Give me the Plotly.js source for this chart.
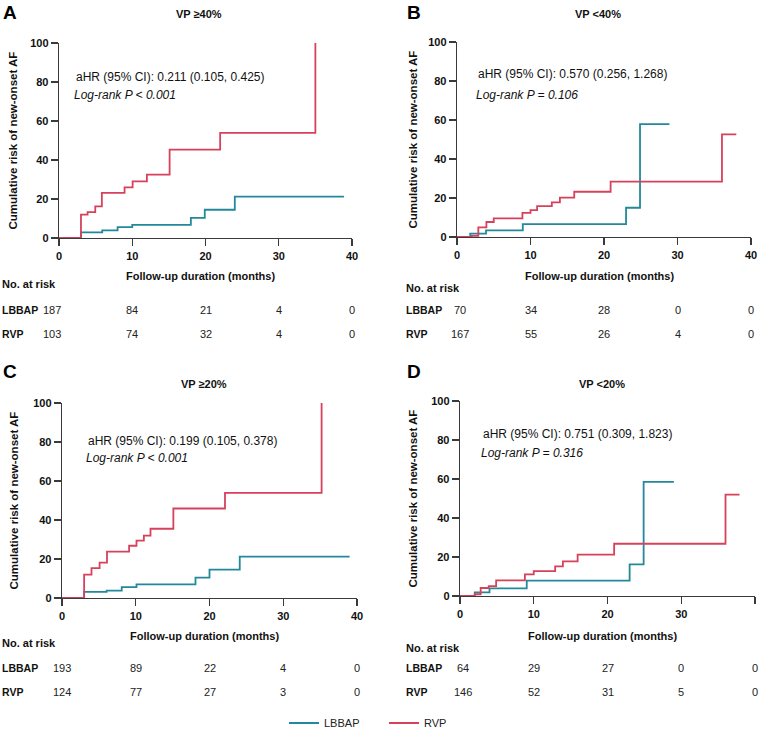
<!DOCTYPE html>
<html>
<head>
<meta charset="utf-8">
<script src="https://cdn.plot.ly/plotly-3.0.1.min.js"></script>
<style>html,body{margin:0;padding:0;background:#fff;}#chart{width:761px;height:743px;}</style>
</head>
<body>
<div id="chart"></div>
<script>
// ---- Data ----
const groups = ['LBBAP', 'RVP'];
const panelLetters = ['A', 'B', 'C', 'D'];
const panelTitles = ['VP ≥40%', 'VP <40%', 'VP ≥20%', 'VP <20%'];
const hrTexts = ['aHR (95% CI): 0.211 (0.105, 0.425)', 'aHR (95% CI): 0.570 (0.256, 1.268)',
                 'aHR (95% CI): 0.199 (0.105, 0.378)', 'aHR (95% CI): 0.751 (0.309, 1.823)'];
const pTexts = ['Log-rank P < 0.001', 'Log-rank P = 0.106', 'Log-rank P < 0.001', 'Log-rank P = 0.316'];
const xTicks = [0, 10, 20, 30, 40];
const yTicks = [0, 20, 40, 60, 80, 100];

const A_LBBAP_t = [0, 3, 5.9, 8, 10, 18, 19.9, 24, 38.9];
const A_LBBAP_y = [0, 2.9, 3.9, 5.6, 6.7, 10.3, 14.5, 21.2, 21.2];
const A_RVP_t = [0, 3, 3.9, 4.95, 5.85, 8.95, 10.05, 12, 15.1, 22, 35];
const A_RVP_y = [0, 12, 13.3, 16.2, 23.1, 26, 29, 32.5, 45.3, 53.9, 100];

const B_LBBAP_t = [0, 1.8, 3.95, 8.95, 23, 24.9, 28.9];
const B_LBBAP_y = [0, 1.7, 3.4, 6.6, 15, 57.9, 57.9];
const B_RVP_t = [0, 2, 2.9, 4, 5, 8.9, 10, 10.9, 12.9, 14, 15.95, 20.9, 36.05, 38];
const B_RVP_y = [0, 0.6, 4.9, 7.7, 9.6, 12.4, 13.8, 15.8, 17.8, 20.2, 23.2, 28.4, 52.6, 52.6];

const C_LBBAP_t = [0, 3, 6.05, 8.1, 10.1, 18.1, 20, 24.1, 39];
const C_LBBAP_y = [0, 3.1, 3.8, 5.6, 7, 10.4, 14.6, 21.2, 21.2];
const C_RVP_t = [0, 3, 4, 5.1, 6.1, 9.1, 10.1, 11.1, 12, 15.1, 22.1, 35.2];
const C_RVP_y = [0, 12, 15.3, 18.1, 23.8, 26.8, 29.4, 32, 35.5, 45.9, 53.9, 100];

const D_LBBAP_t = [0, 2, 4, 9.05, 23, 24.9, 29];
const D_LBBAP_y = [0, 1.9, 3.9, 7.9, 16.2, 58.5, 58.5];
const D_RVP_t = [0, 2, 2.8, 3.9, 4.9, 8.8, 10, 12.9, 13.95, 15.95, 20.9, 36, 37.9];
const D_RVP_y = [0, 0.9, 4.1, 5.1, 8, 11.1, 12.8, 15.2, 17.8, 21.2, 26.8, 52, 52];

// numbers at risk at months 0,10,20,30,40
const A_risk_LBBAP = [187, 84, 21, 4, 0];
const A_risk_RVP = [103, 74, 32, 4, 0];
const B_risk_LBBAP = [70, 34, 28, 0, 0];
const B_risk_RVP = [167, 55, 26, 4, 0];
const C_risk_LBBAP = [193, 89, 22, 4, 0];
const C_risk_RVP = [124, 77, 27, 3, 0];
const D_risk_LBBAP = [64, 29, 27, 0, 0];
const D_risk_RVP = [146, 52, 31, 5, 0];

// ---- Styling / layout ----
const W = 761, H = 743;
const FONT = 'Liberation Sans, Arial, Helvetica, sans-serif';
const TEAL = '#23899A';
const RED = '#D7415C';
const AXC = '#3a3a3a';
const colors = [TEAL, RED];

const curves = [
  [[A_LBBAP_t, A_LBBAP_y], [A_RVP_t, A_RVP_y]],
  [[B_LBBAP_t, B_LBBAP_y], [B_RVP_t, B_RVP_y]],
  [[C_LBBAP_t, C_LBBAP_y], [C_RVP_t, C_RVP_y]],
  [[D_LBBAP_t, D_LBBAP_y], [D_RVP_t, D_RVP_y]]
];
const risks = [
  [A_risk_LBBAP, A_risk_RVP], [B_risk_LBBAP, B_risk_RVP],
  [C_risk_LBBAP, C_risk_RVP], [D_risk_LBBAP, D_risk_RVP]
];

// pixel geometry of each panel
const P = [
  {l: 59, r: 352, t: 43, b: 238, lx: 1, ylx: 12, hrx: 74, hry: 77, py: 95, nar: 284, r1: 310, r2: 334, fu: 276, lettery: 12, titley: 14, firstShift: -7},
  {l: 457, r: 751, t: 42, b: 237, lx: 405, ylx: 412, hrx: 476, hry: 74, py: 95, nar: 288, r1: 310, r2: 334, fu: 276, lettery: 12, titley: 14, firstShift: 3},
  {l: 62, r: 357, t: 403, b: 598, lx: 1, ylx: 13, hrx: 86, hry: 441, py: 458, nar: 643, r1: 668, r2: 692, fu: 636, lettery: 372, titley: 384, firstShift: 0},
  {l: 460, r: 755, t: 401, b: 596, lx: 405, ylx: 412, hrx: 481, hry: 434, py: 453, nar: 648, r1: 668, r2: 692, fu: 636, lettery: 372, titley: 384, firstShift: 3}
];
const fx = px => px / W;
const fy = py => 1 - py / H;

const traces = [];
const annotations = [];
const layout = {
  width: W, height: H,
  margin: {l: 0, r: 0, t: 0, b: 0},
  paper_bgcolor: '#fff', plot_bgcolor: '#fff',
  font: {family: FONT, size: 11, color: '#111'},
  showlegend: true,
  legend: {orientation: 'h', x: fx(284), xanchor: 'left', y: fy(723), yanchor: 'middle',
           font: {family: FONT, size: 11, color: '#222'}, itemwidth: 30, entrywidth: 55, tracegroupgap: 0},
  annotations: annotations
};

P.forEach((p, i) => {
  const n = i + 1;
  const xa = 'xaxis' + (n === 1 ? '' : n);
  const ya = 'yaxis' + (n === 1 ? '' : n);
  const xr = 'x' + (n === 1 ? '' : n);
  const yr = 'y' + (n === 1 ? '' : n);
  layout[xa] = {
    domain: [fx(p.l), fx(p.r)], anchor: yr, range: [0, 40],
    tickvals: xTicks, ticktext: xTicks.map(String), ticks: 'outside', ticklen: 7, tickwidth: 1.3, tickcolor: AXC,
    showline: true, linecolor: AXC, linewidth: 1.3, showgrid: false, zeroline: false,
    tickfont: {family: FONT, size: 11, weight: 'bold', color: '#111'}, fixedrange: true
  };
  layout[ya] = {
    domain: [fy(p.b), fy(p.t)], anchor: xr, range: [0, 100],
    tickvals: yTicks, ticktext: yTicks.map(String), ticks: 'outside', ticklen: 7, tickwidth: 1.3, tickcolor: AXC,
    showline: true, linecolor: AXC, linewidth: 1.3, showgrid: false, zeroline: false,
    tickfont: {family: FONT, size: 11, weight: 'bold', color: '#111'}, fixedrange: true
  };
  curves[i].forEach((c, g) => {
    traces.push({
      type: 'scatter', mode: 'lines', x: c[0], y: c[1], xaxis: xr, yaxis: yr,
      line: {shape: 'hv', color: colors[g], width: 1.8},
      name: groups[g], legendgroup: groups[g], showlegend: i === 0, cliponaxis: false,
      hoverinfo: 'skip'
    });
  });
  annotations.push({text: '<b>' + panelLetters[i] + '</b>', xref: 'paper', yref: 'paper', x: fx(p.lx), y: fy(p.lettery),
    xanchor: 'left', yanchor: 'middle', showarrow: false, font: {family: FONT, size: 19, color: '#000'}});
  annotations.push({text: '<b>' + panelTitles[i] + '</b>', xref: 'paper', yref: 'paper', x: fx((p.l + p.r) / 2 - 6), y: fy(p.titley),
    xanchor: 'center', yanchor: 'middle', showarrow: false, font: {family: FONT, size: 11, color: '#111'}});
  annotations.push({text: hrTexts[i], xref: 'paper', yref: 'paper', x: fx(p.hrx), y: fy(p.hry),
    xanchor: 'left', yanchor: 'middle', showarrow: false, font: {family: FONT, size: 12, color: '#111'}});
  annotations.push({text: '<i>' + pTexts[i] + '</i>', xref: 'paper', yref: 'paper', x: fx(p.hrx - 2), y: fy(p.py),
    xanchor: 'left', yanchor: 'middle', showarrow: false, font: {family: FONT, size: 12, color: '#111'}});
  annotations.push({text: '<b>Cumulative risk of new-onset AF</b>', xref: 'paper', yref: 'paper', x: fx(p.ylx), y: fy((p.t + p.b) / 2),
    xanchor: 'center', yanchor: 'middle', textangle: -90, showarrow: false, font: {family: FONT, size: 11.5, color: '#111'}});
  annotations.push({text: '<b>Follow-up duration (months)</b>', xref: 'paper', yref: 'paper', x: fx((p.l + p.r) / 2 - 5), y: fy(p.fu),
    xanchor: 'center', yanchor: 'middle', showarrow: false, font: {family: FONT, size: 11, color: '#111'}});
  annotations.push({text: '<b>No. at risk</b>', xref: 'paper', yref: 'paper', x: fx(p.lx - 1), y: fy(p.nar),
    xanchor: 'left', yanchor: 'middle', showarrow: false, font: {family: FONT, size: 11, color: '#111'}});
  [p.r1, p.r2].forEach((ry, g) => {
    annotations.push({text: '<b>' + groups[g] + '</b>', xref: 'paper', yref: 'paper', x: fx(p.lx - 1), y: fy(ry),
      xanchor: 'left', yanchor: 'middle', showarrow: false, font: {family: FONT, size: 10.5, color: '#111'}});
    risks[i][g].forEach((v, k) => {
      annotations.push({text: String(v), xref: xr, yref: 'paper', x: xTicks[k], y: fy(ry),
        xshift: k === 0 ? p.firstShift : 0,
        xanchor: 'center', yanchor: 'middle', showarrow: false, font: {family: FONT, size: 11, color: '#222'}});
    });
  });
});

Plotly.newPlot('chart', traces, layout, {displayModeBar: false, staticPlot: true});
</script>
</body>
</html>
